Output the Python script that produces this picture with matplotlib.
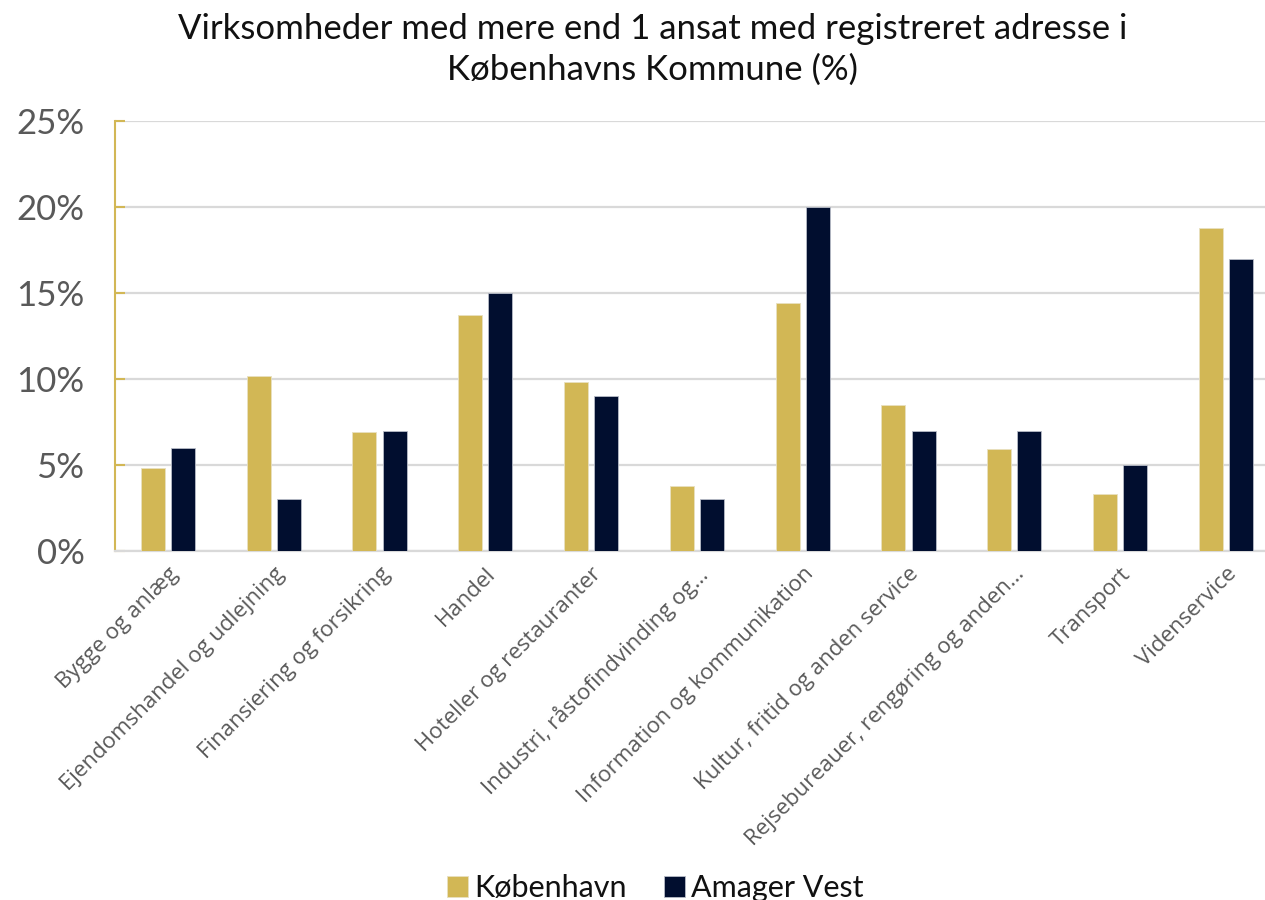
import matplotlib.pyplot as plt
import numpy as np

plt.rcParams['font.family'] = ['Lato', 'DejaVu Sans']

categories = ["Bygge og anlæg", "Ejendomshandel og udlejning", "Finansiering og forsikring",
              "Handel", "Hoteller og restauranter", "Industri, råstofindvinding og…",
              "Information og kommunikation", "Kultur, fritid og anden service",
              "Rejsebureauer, rengøring og anden…", "Transport", "Videnservice"]
koebenhavn = [4.8, 10.2, 6.9, 13.7, 9.8, 3.8, 14.4, 8.5, 5.9, 3.3, 18.8]
amager_vest = [6.0, 3.0, 7.0, 15.0, 9.0, 3.0, 20.0, 7.0, 7.0, 5.0, 17.0]
yticks = [0, 5, 10, 15, 20, 25]

gold = '#D2B755'
navy = '#010E2F'
grey_txt = '#595959'

fig = plt.figure(figsize=(12.65, 9), dpi=100)
ax = fig.add_axes([0.0909, 0.3878, 0.92, 0.4778])

x = np.arange(len(categories))
w = 0.227
ax.bar(x - 0.142, koebenhavn, w, color=gold, edgecolor='#e8e0c0', linewidth=0.6, label="København", zorder=3)
ax.bar(x + 0.142, amager_vest, w, color=navy, edgecolor='#b8bcc8', linewidth=0.6, label="Amager Vest", zorder=3)

ax.set_xlim(-0.5, len(categories) - 0.5)
ax.set_ylim(0, 25)
ax.set_yticks(yticks)
ax.set_yticklabels([f"{v}%" for v in yticks], fontsize=25, color=grey_txt)
ax.tick_params(axis='y', direction='in', length=7, width=1.5, color=gold, pad=22)
ax.tick_params(axis='x', length=0, pad=9)
ax.set_xticks(x)
ax.set_xticklabels(categories, rotation=45, ha='right', rotation_mode='anchor',
                   fontsize=16, color=grey_txt, family=['Open Sans', 'DejaVu Sans'])

ax.grid(axis='y', color='#D9D9D9', linewidth=1.6, zorder=0)
for s in ['top', 'right']:
    ax.spines[s].set_visible(False)
ax.spines['left'].set_color(gold)
ax.spines['left'].set_linewidth(1.5)
ax.spines['bottom'].set_color('#D9D9D9')
ax.spines['bottom'].set_linewidth(1.6)

fig.text(0.516, 0.945, "Virksomheder med mere end 1 ansat med registreret adresse i\nKøbenhavns Kommune (%)",
         ha='center', va='center', fontsize=25, color='#111111', linespacing=1.3)

fig.legend(loc='center', bbox_to_anchor=(0.518, 0.013), ncol=2, frameon=False, fontsize=22,
           handlelength=0.7, handleheight=0.7, handletextpad=0.2, columnspacing=1.2,
           labelcolor='#111111')

fig.savefig("out.png", dpi=100)
